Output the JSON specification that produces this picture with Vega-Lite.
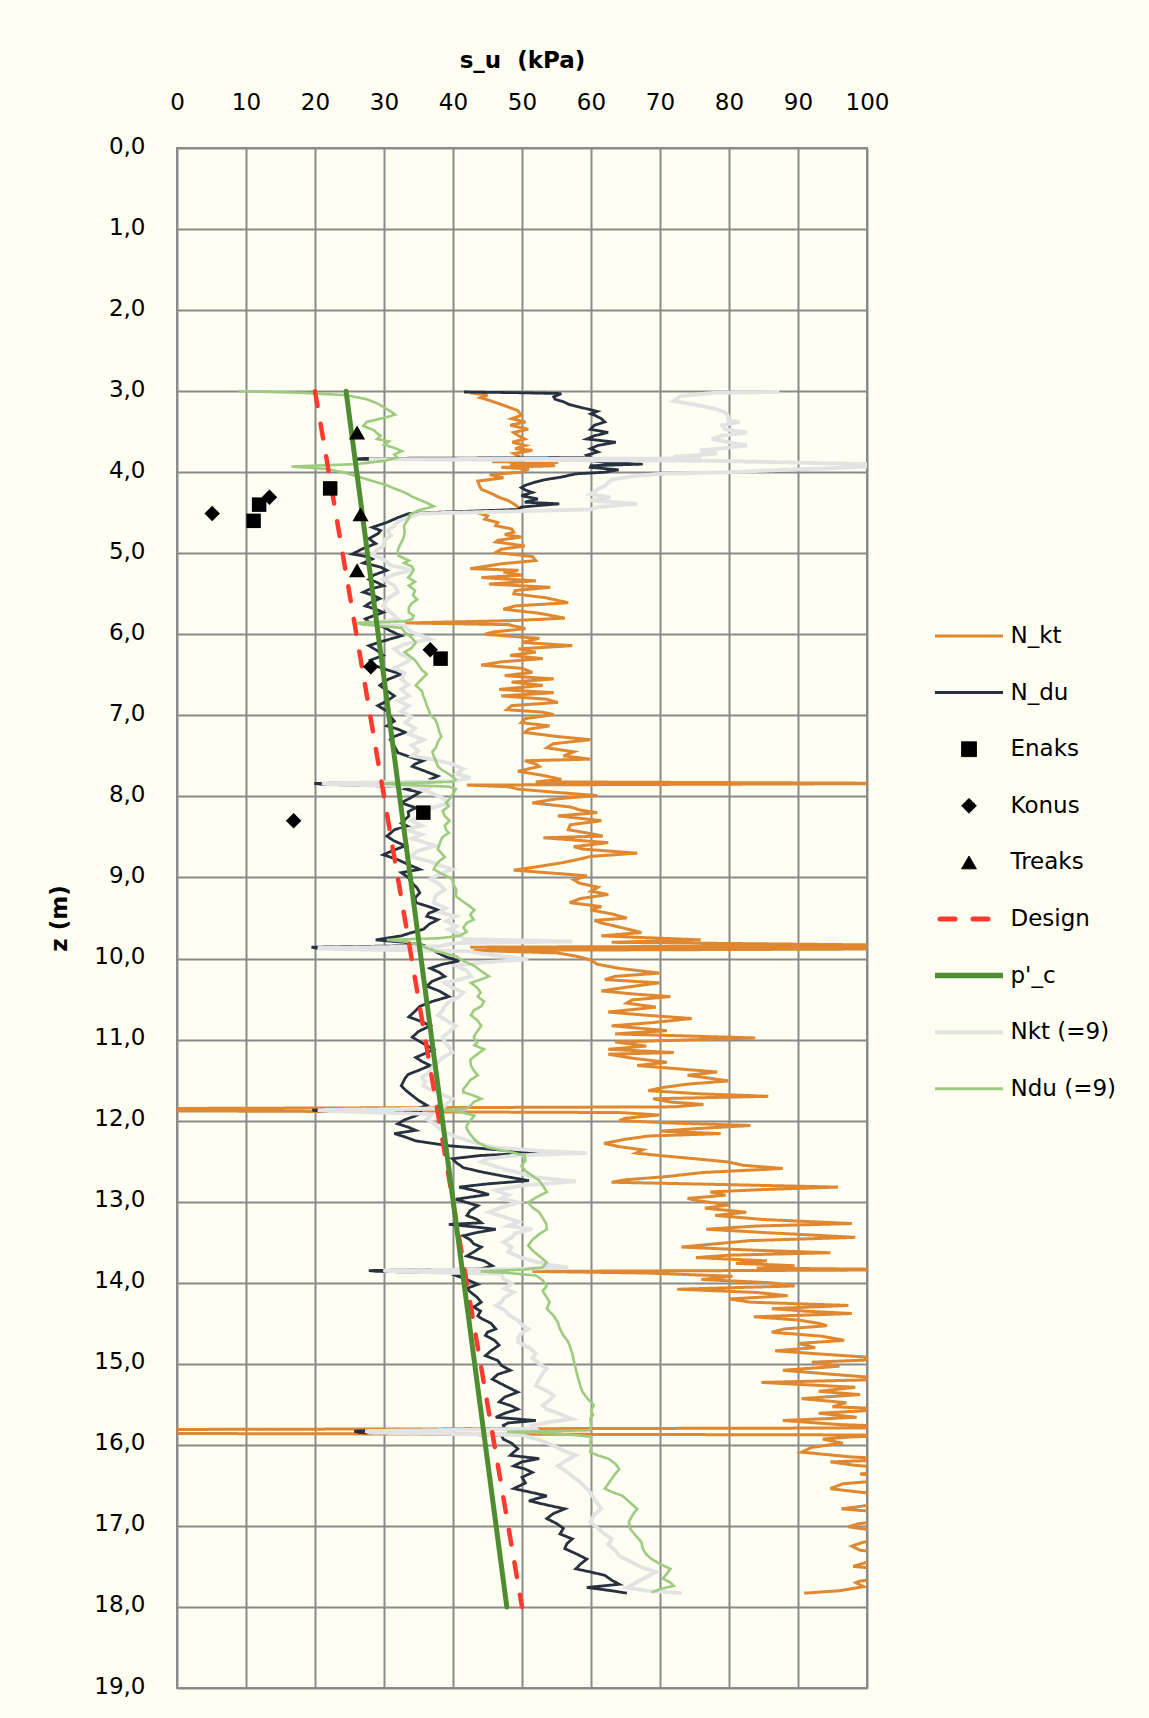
{
"$schema": "https://vega.github.io/schema/vega-lite/v6.json",
"autosize": {"type": "none"},
"padding": {"left": 177, "top": 148, "right": 282, "bottom": 30},
"width": 690,
"height": 1540,
"background": "#FEFEF2",
"config": {
  "view": {"stroke": "#8a8a8a", "strokeWidth": 2},
  "font": "DejaVu Sans"
},
"data": {"values": [
{"s":"N_kt","z":3.02,"v":42.5},{"s":"N_kt","z":3.05,"v":45.0},{"s":"N_kt","z":3.08,"v":44.0},{"s":"N_kt","z":3.12,"v":45.5},{"s":"N_kt","z":3.18,"v":47.5},{"s":"N_kt","z":3.24,"v":49.4},{"s":"N_kt","z":3.30,"v":49.9},{"s":"N_kt","z":3.34,"v":48.5},{"s":"N_kt","z":3.38,"v":50.5},{"s":"N_kt","z":3.42,"v":48.3},{"s":"N_kt","z":3.47,"v":50.9},{"s":"N_kt","z":3.51,"v":48.8},{"s":"N_kt","z":3.55,"v":49.5},{"s":"N_kt","z":3.59,"v":50.4},{"s":"N_kt","z":3.63,"v":48.6},{"s":"N_kt","z":3.67,"v":50.5},{"s":"N_kt","z":3.71,"v":49.0},{"s":"N_kt","z":3.73,"v":51.5},{"s":"N_kt","z":3.77,"v":48.8},{"s":"N_kt","z":3.80,"v":49.5},{"s":"N_kt","z":3.84,"v":49.0},{"s":"N_kt","z":3.87,"v":45.7},{"s":"N_kt","z":3.88,"v":55.2},{"s":"N_kt","z":3.90,"v":48.3},{"s":"N_kt","z":3.92,"v":54.8},{"s":"N_kt","z":3.94,"v":47.0},{"s":"N_kt","z":3.96,"v":51.0},{"s":"N_kt","z":4.00,"v":49.9},{"s":"N_kt","z":4.03,"v":45.3},{"s":"N_kt","z":4.07,"v":47.3},{"s":"N_kt","z":4.11,"v":43.6},{"s":"N_kt","z":4.16,"v":43.8},{"s":"N_kt","z":4.21,"v":44.1},{"s":"N_kt","z":4.26,"v":45.5},{"s":"N_kt","z":4.31,"v":46.7},{"s":"N_kt","z":4.35,"v":48.0},{"s":"N_kt","z":4.39,"v":48.8},{"s":"N_kt","z":4.43,"v":49.4},{"s":"N_kt","z":4.46,"v":49.6},{"s":"N_kt","z":4.50,"v":43.6},{"s":"N_kt","z":4.54,"v":45.0},{"s":"N_kt","z":4.58,"v":44.6},{"s":"N_kt","z":4.62,"v":46.5},{"s":"N_kt","z":4.66,"v":46.2},{"s":"N_kt","z":4.70,"v":48.5},{"s":"N_kt","z":4.74,"v":48.8},{"s":"N_kt","z":4.77,"v":47.5},{"s":"N_kt","z":4.80,"v":49.9},{"s":"N_kt","z":4.84,"v":46.5},{"s":"N_kt","z":4.86,"v":46.2},{"s":"N_kt","z":4.91,"v":50.4},{"s":"N_kt","z":4.95,"v":47.0},{"s":"N_kt","z":4.99,"v":46.2},{"s":"N_kt","z":5.04,"v":51.5},{"s":"N_kt","z":5.09,"v":52.0},{"s":"N_kt","z":5.13,"v":47.0},{"s":"N_kt","z":5.19,"v":42.5},{"s":"N_kt","z":5.21,"v":49.5},{"s":"N_kt","z":5.23,"v":47.3},{"s":"N_kt","z":5.27,"v":50.0},{"s":"N_kt","z":5.30,"v":44.1},{"s":"N_kt","z":5.34,"v":52.0},{"s":"N_kt","z":5.38,"v":45.2},{"s":"N_kt","z":5.42,"v":54.1},{"s":"N_kt","z":5.46,"v":49.0},{"s":"N_kt","z":5.50,"v":48.8},{"s":"N_kt","z":5.55,"v":53.5},{"s":"N_kt","z":5.61,"v":56.7},{"s":"N_kt","z":5.65,"v":49.0},{"s":"N_kt","z":5.69,"v":47.3},{"s":"N_kt","z":5.74,"v":52.5},{"s":"N_kt","z":5.80,"v":56.2},{"s":"N_kt","z":5.83,"v":49.0},{"s":"N_kt","z":5.86,"v":33.1},{"s":"N_kt","z":5.88,"v":48.0},{"s":"N_kt","z":5.93,"v":50.5},{"s":"N_kt","z":5.97,"v":46.0},{"s":"N_kt","z":6.00,"v":44.6},{"s":"N_kt","z":6.05,"v":52.5},{"s":"N_kt","z":6.10,"v":50.0},{"s":"N_kt","z":6.14,"v":57.3},{"s":"N_kt","z":6.18,"v":49.5},{"s":"N_kt","z":6.22,"v":52.0},{"s":"N_kt","z":6.26,"v":48.3},{"s":"N_kt","z":6.30,"v":53.0},{"s":"N_kt","z":6.34,"v":47.0},{"s":"N_kt","z":6.38,"v":44.1},{"s":"N_kt","z":6.42,"v":50.0},{"s":"N_kt","z":6.47,"v":51.5},{"s":"N_kt","z":6.51,"v":47.5},{"s":"N_kt","z":6.55,"v":54.6},{"s":"N_kt","z":6.59,"v":48.5},{"s":"N_kt","z":6.63,"v":53.0},{"s":"N_kt","z":6.68,"v":46.7},{"s":"N_kt","z":6.72,"v":54.6},{"s":"N_kt","z":6.76,"v":47.0},{"s":"N_kt","z":6.80,"v":53.5},{"s":"N_kt","z":6.84,"v":55.2},{"s":"N_kt","z":6.88,"v":48.5},{"s":"N_kt","z":6.93,"v":47.8},{"s":"N_kt","z":6.96,"v":53.0},{"s":"N_kt","z":6.99,"v":54.6},{"s":"N_kt","z":7.04,"v":50.5},{"s":"N_kt","z":7.09,"v":49.9},{"s":"N_kt","z":7.13,"v":54.0},{"s":"N_kt","z":7.17,"v":51.0},{"s":"N_kt","z":7.21,"v":50.4},{"s":"N_kt","z":7.26,"v":55.0},{"s":"N_kt","z":7.30,"v":59.9},{"s":"N_kt","z":7.35,"v":54.5},{"s":"N_kt","z":7.40,"v":53.6},{"s":"N_kt","z":7.45,"v":57.5},{"s":"N_kt","z":7.50,"v":56.0},{"s":"N_kt","z":7.54,"v":59.9},{"s":"N_kt","z":7.56,"v":50.4},{"s":"N_kt","z":7.60,"v":52.0},{"s":"N_kt","z":7.63,"v":52.5},{"s":"N_kt","z":7.69,"v":49.4},{"s":"N_kt","z":7.74,"v":53.0},{"s":"N_kt","z":7.79,"v":55.7},{"s":"N_kt","z":7.82,"v":52.0},{"s":"N_kt","z":7.84,"v":110},{"s":"N_kt","z":7.86,"v":42.0},{"s":"N_kt","z":7.88,"v":48.0},{"s":"N_kt","z":7.91,"v":49.4},{"s":"N_kt","z":7.95,"v":55.0},{"s":"N_kt","z":7.99,"v":60.9},{"s":"N_kt","z":8.03,"v":55.0},{"s":"N_kt","z":8.08,"v":51.5},{"s":"N_kt","z":8.13,"v":57.0},{"s":"N_kt","z":8.17,"v":58.5},{"s":"N_kt","z":8.20,"v":60.9},{"s":"N_kt","z":8.24,"v":55.2},{"s":"N_kt","z":8.30,"v":61.5},{"s":"N_kt","z":8.35,"v":57.0},{"s":"N_kt","z":8.41,"v":56.7},{"s":"N_kt","z":8.46,"v":60.0},{"s":"N_kt","z":8.49,"v":61.7},{"s":"N_kt","z":8.51,"v":53.1},{"s":"N_kt","z":8.57,"v":62.5},{"s":"N_kt","z":8.62,"v":57.5},{"s":"N_kt","z":8.65,"v":58.8},{"s":"N_kt","z":8.70,"v":66.7},{"s":"N_kt","z":8.74,"v":60.0},{"s":"N_kt","z":8.78,"v":58.0},{"s":"N_kt","z":8.82,"v":55.7},{"s":"N_kt","z":8.87,"v":52.0},{"s":"N_kt","z":8.91,"v":48.8},{"s":"N_kt","z":8.95,"v":55.0},{"s":"N_kt","z":8.98,"v":59.4},{"s":"N_kt","z":9.03,"v":57.5},{"s":"N_kt","z":9.07,"v":58.3},{"s":"N_kt","z":9.12,"v":61.0},{"s":"N_kt","z":9.17,"v":60.0},{"s":"N_kt","z":9.21,"v":62.5},{"s":"N_kt","z":9.26,"v":58.5},{"s":"N_kt","z":9.31,"v":56.9},{"s":"N_kt","z":9.36,"v":61.5},{"s":"N_kt","z":9.40,"v":59.9},{"s":"N_kt","z":9.45,"v":63.0},{"s":"N_kt","z":9.50,"v":65.2},{"s":"N_kt","z":9.53,"v":60.5},{"s":"N_kt","z":9.56,"v":61.5},{"s":"N_kt","z":9.62,"v":64.5},{"s":"N_kt","z":9.68,"v":67.3},{"s":"N_kt","z":9.72,"v":61.5},{"s":"N_kt","z":9.77,"v":75.9},{"s":"N_kt","z":9.80,"v":63.0},{"s":"N_kt","z":9.84,"v":110},{"s":"N_kt","z":9.86,"v":42.5},{"s":"N_kt","z":9.88,"v":110},{"s":"N_kt","z":9.90,"v":43.0},{"s":"N_kt","z":9.93,"v":55.0},{"s":"N_kt","z":9.97,"v":57.8},{"s":"N_kt","z":10.02,"v":60.0},{"s":"N_kt","z":10.07,"v":60.9},{"s":"N_kt","z":10.12,"v":64.0},{"s":"N_kt","z":10.18,"v":69.9},{"s":"N_kt","z":10.22,"v":63.5},{"s":"N_kt","z":10.26,"v":62.0},{"s":"N_kt","z":10.30,"v":69.9},{"s":"N_kt","z":10.35,"v":65.5},{"s":"N_kt","z":10.40,"v":61.5},{"s":"N_kt","z":10.44,"v":66.5},{"s":"N_kt","z":10.47,"v":71.5},{"s":"N_kt","z":10.51,"v":66.0},{"s":"N_kt","z":10.55,"v":65.2},{"s":"N_kt","z":10.60,"v":69.4},{"s":"N_kt","z":10.63,"v":66.0},{"s":"N_kt","z":10.66,"v":62.5},{"s":"N_kt","z":10.70,"v":68.0},{"s":"N_kt","z":10.74,"v":74.6},{"s":"N_kt","z":10.79,"v":69.0},{"s":"N_kt","z":10.83,"v":63.0},{"s":"N_kt","z":10.86,"v":67.0},{"s":"N_kt","z":10.89,"v":71.0},{"s":"N_kt","z":10.93,"v":63.5},{"s":"N_kt","z":10.98,"v":83.8},{"s":"N_kt","z":11.03,"v":63.5},{"s":"N_kt","z":11.08,"v":68.0},{"s":"N_kt","z":11.12,"v":62.5},{"s":"N_kt","z":11.16,"v":72.0},{"s":"N_kt","z":11.18,"v":62.5},{"s":"N_kt","z":11.23,"v":66.0},{"s":"N_kt","z":11.28,"v":71.0},{"s":"N_kt","z":11.32,"v":66.7},{"s":"N_kt","z":11.36,"v":72.5},{"s":"N_kt","z":11.40,"v":78.3},{"s":"N_kt","z":11.44,"v":74.0},{"s":"N_kt","z":11.48,"v":77.5},{"s":"N_kt","z":11.51,"v":79.9},{"s":"N_kt","z":11.55,"v":74.0},{"s":"N_kt","z":11.59,"v":70.5},{"s":"N_kt","z":11.63,"v":68.3},{"s":"N_kt","z":11.67,"v":76.0},{"s":"N_kt","z":11.70,"v":85.7},{"s":"N_kt","z":11.73,"v":69.0},{"s":"N_kt","z":11.77,"v":71.5},{"s":"N_kt","z":11.80,"v":76.3},{"s":"N_kt","z":11.83,"v":72.0},{"s":"N_kt","z":11.85,"v":0},{"s":"N_kt","z":11.88,"v":0},{"s":"N_kt","z":11.90,"v":64.1},{"s":"N_kt","z":11.93,"v":69.9},{"s":"N_kt","z":11.97,"v":65.0},{"s":"N_kt","z":12.00,"v":64.1},{"s":"N_kt","z":12.03,"v":72.0},{"s":"N_kt","z":12.06,"v":83.1},{"s":"N_kt","z":12.10,"v":75.0},{"s":"N_kt","z":12.13,"v":70.0},{"s":"N_kt","z":12.16,"v":78.8},{"s":"N_kt","z":12.19,"v":68.3},{"s":"N_kt","z":12.23,"v":65.0},{"s":"N_kt","z":12.28,"v":61.9},{"s":"N_kt","z":12.32,"v":64.0},{"s":"N_kt","z":12.36,"v":67.5},{"s":"N_kt","z":12.40,"v":66.5},{"s":"N_kt","z":12.43,"v":69.9},{"s":"N_kt","z":12.47,"v":75.0},{"s":"N_kt","z":12.51,"v":79.9},{"s":"N_kt","z":12.55,"v":82.0},{"s":"N_kt","z":12.59,"v":87.8},{"s":"N_kt","z":12.64,"v":76.2},{"s":"N_kt","z":12.69,"v":71.0},{"s":"N_kt","z":12.73,"v":65.0},{"s":"N_kt","z":12.76,"v":63.0},{"s":"N_kt","z":12.79,"v":80.0},{"s":"N_kt","z":12.82,"v":95.8},{"s":"N_kt","z":12.85,"v":85.0},{"s":"N_kt","z":12.88,"v":77.3},{"s":"N_kt","z":12.92,"v":79.5},{"s":"N_kt","z":12.96,"v":74.0},{"s":"N_kt","z":12.99,"v":75.7},{"s":"N_kt","z":13.04,"v":80.0},{"s":"N_kt","z":13.08,"v":76.5},{"s":"N_kt","z":13.13,"v":82.5},{"s":"N_kt","z":13.17,"v":78.0},{"s":"N_kt","z":13.22,"v":85.0},{"s":"N_kt","z":13.27,"v":97.8},{"s":"N_kt","z":13.30,"v":84.0},{"s":"N_kt","z":13.34,"v":76.7},{"s":"N_kt","z":13.38,"v":85.0},{"s":"N_kt","z":13.44,"v":98.3},{"s":"N_kt","z":13.48,"v":83.1},{"s":"N_kt","z":13.52,"v":78.0},{"s":"N_kt","z":13.56,"v":73.1},{"s":"N_kt","z":13.60,"v":84.0},{"s":"N_kt","z":13.63,"v":94.7},{"s":"N_kt","z":13.66,"v":80.0},{"s":"N_kt","z":13.69,"v":75.2},{"s":"N_kt","z":13.73,"v":85.5},{"s":"N_kt","z":13.76,"v":81.0},{"s":"N_kt","z":13.79,"v":89.5},{"s":"N_kt","z":13.82,"v":84.0},{"s":"N_kt","z":13.84,"v":110},{"s":"N_kt","z":13.86,"v":51.5},{"s":"N_kt","z":13.88,"v":68.0},{"s":"N_kt","z":13.92,"v":80.5},{"s":"N_kt","z":13.96,"v":76.0},{"s":"N_kt","z":14.00,"v":86.0},{"s":"N_kt","z":14.04,"v":89.5},{"s":"N_kt","z":14.08,"v":72.5},{"s":"N_kt","z":14.12,"v":84.0},{"s":"N_kt","z":14.16,"v":88.5},{"s":"N_kt","z":14.20,"v":80.0},{"s":"N_kt","z":14.24,"v":83.1},{"s":"N_kt","z":14.28,"v":97.3},{"s":"N_kt","z":14.32,"v":86.2},{"s":"N_kt","z":14.35,"v":91.0},{"s":"N_kt","z":14.38,"v":97.8},{"s":"N_kt","z":14.42,"v":83.6},{"s":"N_kt","z":14.46,"v":90.0},{"s":"N_kt","z":14.50,"v":93.0},{"s":"N_kt","z":14.53,"v":94.2},{"s":"N_kt","z":14.57,"v":88.0},{"s":"N_kt","z":14.61,"v":86.2},{"s":"N_kt","z":14.66,"v":93.5},{"s":"N_kt","z":14.71,"v":96.7},{"s":"N_kt","z":14.75,"v":90.0},{"s":"N_kt","z":14.80,"v":92.5},{"s":"N_kt","z":14.84,"v":86.7},{"s":"N_kt","z":14.89,"v":95.0},{"s":"N_kt","z":14.94,"v":104},{"s":"N_kt","z":14.98,"v":92.0},{"s":"N_kt","z":15.03,"v":96.0},{"s":"N_kt","z":15.08,"v":87.8},{"s":"N_kt","z":15.13,"v":95.0},{"s":"N_kt","z":15.19,"v":104},{"s":"N_kt","z":15.23,"v":84.7},{"s":"N_kt","z":15.29,"v":98.3},{"s":"N_kt","z":15.34,"v":93.0},{"s":"N_kt","z":15.38,"v":99.0},{"s":"N_kt","z":15.43,"v":90.5},{"s":"N_kt","z":15.48,"v":97.0},{"s":"N_kt","z":15.53,"v":95.0},{"s":"N_kt","z":15.56,"v":104},{"s":"N_kt","z":15.61,"v":93.0},{"s":"N_kt","z":15.66,"v":98.5},{"s":"N_kt","z":15.70,"v":87.8},{"s":"N_kt","z":15.75,"v":96.0},{"s":"N_kt","z":15.79,"v":110},{"s":"N_kt","z":15.81,"v":0},{"s":"N_kt","z":15.86,"v":0},{"s":"N_kt","z":15.88,"v":110},{"s":"N_kt","z":15.90,"v":98.0},{"s":"N_kt","z":15.93,"v":93.6},{"s":"N_kt","z":15.98,"v":96.5},{"s":"N_kt","z":16.03,"v":92.0},{"s":"N_kt","z":16.09,"v":90.5},{"s":"N_kt","z":16.15,"v":97.8},{"s":"N_kt","z":16.18,"v":105},{"s":"N_kt","z":16.21,"v":94.7},{"s":"N_kt","z":16.25,"v":98.0},{"s":"N_kt","z":16.30,"v":105},{"s":"N_kt","z":16.36,"v":99.0},{"s":"N_kt","z":16.42,"v":105},{"s":"N_kt","z":16.48,"v":96.5},{"s":"N_kt","z":16.54,"v":94.7},{"s":"N_kt","z":16.58,"v":98.5},{"s":"N_kt","z":16.63,"v":105},{"s":"N_kt","z":16.70,"v":105},{"s":"N_kt","z":16.75,"v":99.9},{"s":"N_kt","z":16.79,"v":96.3},{"s":"N_kt","z":16.85,"v":105},{"s":"N_kt","z":16.92,"v":105},{"s":"N_kt","z":16.97,"v":99.0},{"s":"N_kt","z":17.01,"v":97.3},{"s":"N_kt","z":17.05,"v":100.5},{"s":"N_kt","z":17.10,"v":105},{"s":"N_kt","z":17.15,"v":105},{"s":"N_kt","z":17.20,"v":99.5},{"s":"N_kt","z":17.25,"v":97.8},{"s":"N_kt","z":17.30,"v":99.0},{"s":"N_kt","z":17.36,"v":105},{"s":"N_kt","z":17.41,"v":105},{"s":"N_kt","z":17.45,"v":99.9},{"s":"N_kt","z":17.50,"v":98.0},{"s":"N_kt","z":17.55,"v":105},{"s":"N_kt","z":17.62,"v":105},{"s":"N_kt","z":17.68,"v":99.0},{"s":"N_kt","z":17.70,"v":98.4},{"s":"N_kt","z":17.75,"v":99.5},{"s":"N_kt","z":17.80,"v":96.0},{"s":"N_kt","z":17.83,"v":90.9},

{"s":"N_du","z":3.01,"v":41.6},{"s":"N_du","z":3.02,"v":50.0},{"s":"N_du","z":3.03,"v":55.7},{"s":"N_du","z":3.07,"v":54.6},{"s":"N_du","z":3.10,"v":54.8},{"s":"N_du","z":3.13,"v":56.0},{"s":"N_du","z":3.16,"v":56.7},{"s":"N_du","z":3.20,"v":58.5},{"s":"N_du","z":3.25,"v":60.9},{"s":"N_du","z":3.28,"v":60.0},{"s":"N_du","z":3.30,"v":60.6},{"s":"N_du","z":3.34,"v":61.5},{"s":"N_du","z":3.38,"v":62.0},{"s":"N_du","z":3.42,"v":60.5},{"s":"N_du","z":3.47,"v":59.9},{"s":"N_du","z":3.51,"v":62.5},{"s":"N_du","z":3.55,"v":60.5},{"s":"N_du","z":3.59,"v":59.4},{"s":"N_du","z":3.63,"v":63.6},{"s":"N_du","z":3.67,"v":61.0},{"s":"N_du","z":3.71,"v":59.9},{"s":"N_du","z":3.75,"v":61.0},{"s":"N_du","z":3.79,"v":59.4},{"s":"N_du","z":3.82,"v":60.0},{"s":"N_du","z":3.83,"v":27.0},{"s":"N_du","z":3.84,"v":25.5},{"s":"N_du","z":3.85,"v":59.5},{"s":"N_du","z":3.88,"v":62.0},{"s":"N_du","z":3.90,"v":67.5},{"s":"N_du","z":3.92,"v":60.0},{"s":"N_du","z":3.94,"v":59.9},{"s":"N_du","z":3.97,"v":64.0},{"s":"N_du","z":4.00,"v":62.0},{"s":"N_du","z":4.02,"v":57.8},{"s":"N_du","z":4.06,"v":55.7},{"s":"N_du","z":4.09,"v":53.5},{"s":"N_du","z":4.12,"v":52.0},{"s":"N_du","z":4.16,"v":50.5},{"s":"N_du","z":4.19,"v":49.9},{"s":"N_du","z":4.22,"v":50.5},{"s":"N_du","z":4.25,"v":51.5},{"s":"N_du","z":4.29,"v":49.9},{"s":"N_du","z":4.33,"v":52.3},{"s":"N_du","z":4.37,"v":50.4},{"s":"N_du","z":4.39,"v":55.4},{"s":"N_du","z":4.43,"v":49.9},{"s":"N_du","z":4.46,"v":49.4},{"s":"N_du","z":4.50,"v":36.0},{"s":"N_du","z":4.51,"v":33.6},{"s":"N_du","z":4.56,"v":32.0},{"s":"N_du","z":4.62,"v":30.4},{"s":"N_du","z":4.68,"v":28.3},{"s":"N_du","z":4.72,"v":29.5},{"s":"N_du","z":4.76,"v":29.1},{"s":"N_du","z":4.82,"v":27.8},{"s":"N_du","z":4.88,"v":28.8},{"s":"N_du","z":4.94,"v":27.0},{"s":"N_du","z":5.01,"v":25.4},{"s":"N_du","z":5.04,"v":27.5},{"s":"N_du","z":5.07,"v":28.3},{"s":"N_du","z":5.12,"v":27.0},{"s":"N_du","z":5.17,"v":29.5},{"s":"N_du","z":5.21,"v":30.4},{"s":"N_du","z":5.27,"v":28.5},{"s":"N_du","z":5.32,"v":27.8},{"s":"N_du","z":5.36,"v":29.0},{"s":"N_du","z":5.40,"v":29.9},{"s":"N_du","z":5.44,"v":28.0},{"s":"N_du","z":5.48,"v":27.0},{"s":"N_du","z":5.52,"v":28.5},{"s":"N_du","z":5.56,"v":29.4},{"s":"N_du","z":5.61,"v":28.0},{"s":"N_du","z":5.65,"v":27.3},{"s":"N_du","z":5.69,"v":28.8},{"s":"N_du","z":5.73,"v":29.9},{"s":"N_du","z":5.77,"v":28.5},{"s":"N_du","z":5.81,"v":27.3},{"s":"N_du","z":5.86,"v":28.0},{"s":"N_du","z":5.91,"v":29.9},{"s":"N_du","z":5.96,"v":31.0},{"s":"N_du","z":6.02,"v":32.5},{"s":"N_du","z":6.08,"v":30.0},{"s":"N_du","z":6.14,"v":27.8},{"s":"N_du","z":6.20,"v":29.0},{"s":"N_du","z":6.26,"v":29.9},{"s":"N_du","z":6.32,"v":28.0},{"s":"N_du","z":6.39,"v":28.8},{"s":"N_du","z":6.44,"v":30.5},{"s":"N_du","z":6.49,"v":32.5},{"s":"N_du","z":6.56,"v":30.5},{"s":"N_du","z":6.63,"v":29.4},{"s":"N_du","z":6.70,"v":30.5},{"s":"N_du","z":6.76,"v":31.5},{"s":"N_du","z":6.82,"v":30.5},{"s":"N_du","z":6.88,"v":29.1},{"s":"N_du","z":6.95,"v":30.5},{"s":"N_du","z":7.01,"v":30.9},{"s":"N_du","z":7.07,"v":31.5},{"s":"N_du","z":7.13,"v":30.4},{"s":"N_du","z":7.17,"v":32.0},{"s":"N_du","z":7.21,"v":33.1},{"s":"N_du","z":7.26,"v":31.5},{"s":"N_du","z":7.30,"v":30.9},{"s":"N_du","z":7.38,"v":31.5},{"s":"N_du","z":7.46,"v":32.0},{"s":"N_du","z":7.52,"v":34.0},{"s":"N_du","z":7.56,"v":35.7},{"s":"N_du","z":7.60,"v":34.5},{"s":"N_du","z":7.63,"v":34.1},{"s":"N_du","z":7.69,"v":36.0},{"s":"N_du","z":7.75,"v":37.8},{"s":"N_du","z":7.79,"v":36.7},{"s":"N_du","z":7.82,"v":37.0},{"s":"N_du","z":7.84,"v":19.9},{"s":"N_du","z":7.85,"v":21.0},{"s":"N_du","z":7.88,"v":34.0},{"s":"N_du","z":7.91,"v":33.1},{"s":"N_du","z":7.95,"v":35.2},{"s":"N_du","z":8.01,"v":34.0},{"s":"N_du","z":8.08,"v":32.5},{"s":"N_du","z":8.14,"v":34.6},{"s":"N_du","z":8.19,"v":33.5},{"s":"N_du","z":8.24,"v":33.6},{"s":"N_du","z":8.29,"v":33.0},{"s":"N_du","z":8.33,"v":32.5},{"s":"N_du","z":8.37,"v":33.5},{"s":"N_du","z":8.41,"v":31.5},{"s":"N_du","z":8.45,"v":31.0},{"s":"N_du","z":8.49,"v":30.4},{"s":"N_du","z":8.55,"v":31.5},{"s":"N_du","z":8.61,"v":33.1},{"s":"N_du","z":8.66,"v":31.5},{"s":"N_du","z":8.72,"v":29.9},{"s":"N_du","z":8.78,"v":32.0},{"s":"N_du","z":8.84,"v":33.5},{"s":"N_du","z":8.90,"v":35.2},{"s":"N_du","z":8.94,"v":32.5},{"s":"N_du","z":9.00,"v":33.5},{"s":"N_du","z":9.07,"v":34.1},{"s":"N_du","z":9.13,"v":34.8},{"s":"N_du","z":9.19,"v":35.2},{"s":"N_du","z":9.25,"v":34.5},{"s":"N_du","z":9.31,"v":34.6},{"s":"N_du","z":9.36,"v":36.5},{"s":"N_du","z":9.40,"v":37.8},{"s":"N_du","z":9.44,"v":36.5},{"s":"N_du","z":9.48,"v":36.2},{"s":"N_du","z":9.52,"v":37.8},{"s":"N_du","z":9.58,"v":36.5},{"s":"N_du","z":9.64,"v":35.7},{"s":"N_du","z":9.68,"v":34.0},{"s":"N_du","z":9.72,"v":32.5},{"s":"N_du","z":9.77,"v":28.8},{"s":"N_du","z":9.80,"v":33.0},{"s":"N_du","z":9.84,"v":36.0},{"s":"N_du","z":9.86,"v":19.5},{"s":"N_du","z":9.87,"v":20.0},{"s":"N_du","z":9.89,"v":37.0},{"s":"N_du","z":9.93,"v":37.8},{"s":"N_du","z":9.98,"v":39.0},{"s":"N_du","z":10.03,"v":40.9},{"s":"N_du","z":10.07,"v":38.5},{"s":"N_du","z":10.12,"v":36.7},{"s":"N_du","z":10.17,"v":38.0},{"s":"N_du","z":10.22,"v":38.8},{"s":"N_du","z":10.28,"v":37.0},{"s":"N_du","z":10.34,"v":36.2},{"s":"N_du","z":10.40,"v":38.0},{"s":"N_du","z":10.47,"v":39.4},{"s":"N_du","z":10.53,"v":37.0},{"s":"N_du","z":10.59,"v":35.2},{"s":"N_du","z":10.65,"v":34.5},{"s":"N_du","z":10.72,"v":33.6},{"s":"N_du","z":10.78,"v":35.5},{"s":"N_du","z":10.83,"v":36.7},{"s":"N_du","z":10.90,"v":35.0},{"s":"N_du","z":10.97,"v":34.1},{"s":"N_du","z":11.04,"v":35.5},{"s":"N_du","z":11.12,"v":37.2},{"s":"N_du","z":11.17,"v":36.0},{"s":"N_du","z":11.22,"v":34.6},{"s":"N_du","z":11.27,"v":35.5},{"s":"N_du","z":11.32,"v":36.7},{"s":"N_du","z":11.38,"v":35.0},{"s":"N_du","z":11.43,"v":33.5},{"s":"N_du","z":11.47,"v":33.1},{"s":"N_du","z":11.52,"v":32.8},{"s":"N_du","z":11.57,"v":32.5},{"s":"N_du","z":11.63,"v":33.2},{"s":"N_du","z":11.69,"v":34.1},{"s":"N_du","z":11.75,"v":35.0},{"s":"N_du","z":11.81,"v":36.2},{"s":"N_du","z":11.85,"v":35.0},{"s":"N_du","z":11.87,"v":19.6},{"s":"N_du","z":11.88,"v":20.5},{"s":"N_du","z":11.90,"v":35.5},{"s":"N_du","z":11.94,"v":34.6},{"s":"N_du","z":11.99,"v":33.0},{"s":"N_du","z":12.04,"v":32.0},{"s":"N_du","z":12.08,"v":33.5},{"s":"N_du","z":12.12,"v":34.6},{"s":"N_du","z":12.16,"v":31.5},{"s":"N_du","z":12.20,"v":33.0},{"s":"N_du","z":12.25,"v":34.6},{"s":"N_du","z":12.28,"v":37.0},{"s":"N_du","z":12.31,"v":39.4},{"s":"N_du","z":12.35,"v":45.0},{"s":"N_du","z":12.40,"v":52.5},{"s":"N_du","z":12.43,"v":44.0},{"s":"N_du","z":12.47,"v":39.9},{"s":"N_du","z":12.52,"v":40.5},{"s":"N_du","z":12.58,"v":41.5},{"s":"N_du","z":12.63,"v":44.0},{"s":"N_du","z":12.68,"v":47.0},{"s":"N_du","z":12.74,"v":51.0},{"s":"N_du","z":12.78,"v":45.0},{"s":"N_du","z":12.82,"v":40.9},{"s":"N_du","z":12.86,"v":43.0},{"s":"N_du","z":12.91,"v":45.2},{"s":"N_du","z":12.97,"v":40.4},{"s":"N_du","z":13.01,"v":42.0},{"s":"N_du","z":13.05,"v":43.6},{"s":"N_du","z":13.11,"v":42.5},{"s":"N_du","z":13.17,"v":42.0},{"s":"N_du","z":13.22,"v":43.5},{"s":"N_du","z":13.26,"v":44.1},{"s":"N_du","z":13.28,"v":39.4},{"s":"N_du","z":13.31,"v":43.0},{"s":"N_du","z":13.34,"v":46.2},{"s":"N_du","z":13.38,"v":43.5},{"s":"N_du","z":13.42,"v":41.5},{"s":"N_du","z":13.47,"v":42.5},{"s":"N_du","z":13.52,"v":43.0},{"s":"N_du","z":13.56,"v":44.1},{"s":"N_du","z":13.62,"v":43.0},{"s":"N_du","z":13.67,"v":42.0},{"s":"N_du","z":13.73,"v":44.5},{"s":"N_du","z":13.79,"v":45.7},{"s":"N_du","z":13.83,"v":44.0},{"s":"N_du","z":13.85,"v":27.8},{"s":"N_du","z":13.86,"v":29.0},{"s":"N_du","z":13.88,"v":42.0},{"s":"N_du","z":13.91,"v":40.4},{"s":"N_du","z":13.96,"v":42.0},{"s":"N_du","z":14.02,"v":43.6},{"s":"N_du","z":14.07,"v":42.0},{"s":"N_du","z":14.12,"v":42.6},{"s":"N_du","z":14.18,"v":43.5},{"s":"N_du","z":14.24,"v":44.1},{"s":"N_du","z":14.30,"v":43.0},{"s":"N_du","z":14.35,"v":44.0},{"s":"N_du","z":14.41,"v":43.6},{"s":"N_du","z":14.44,"v":44.1},{"s":"N_du","z":14.50,"v":45.5},{"s":"N_du","z":14.57,"v":46.2},{"s":"N_du","z":14.61,"v":45.0},{"s":"N_du","z":14.65,"v":44.7},{"s":"N_du","z":14.71,"v":46.0},{"s":"N_du","z":14.77,"v":46.7},{"s":"N_du","z":14.84,"v":45.5},{"s":"N_du","z":14.90,"v":44.7},{"s":"N_du","z":14.96,"v":46.5},{"s":"N_du","z":15.02,"v":47.0},{"s":"N_du","z":15.08,"v":48.3},{"s":"N_du","z":15.13,"v":46.5},{"s":"N_du","z":15.19,"v":45.7},{"s":"N_du","z":15.27,"v":47.5},{"s":"N_du","z":15.35,"v":49.4},{"s":"N_du","z":15.41,"v":47.5},{"s":"N_du","z":15.47,"v":46.7},{"s":"N_du","z":15.52,"v":48.5},{"s":"N_du","z":15.56,"v":49.4},{"s":"N_du","z":15.61,"v":47.5},{"s":"N_du","z":15.66,"v":46.2},{"s":"N_du","z":15.70,"v":52.0},{"s":"N_du","z":15.73,"v":48.0},{"s":"N_du","z":15.76,"v":47.3},{"s":"N_du","z":15.80,"v":47.5},{"s":"N_du","z":15.83,"v":25.7},{"s":"N_du","z":15.85,"v":26.5},{"s":"N_du","z":15.88,"v":47.0},{"s":"N_du","z":15.93,"v":47.3},{"s":"N_du","z":15.98,"v":48.5},{"s":"N_du","z":16.05,"v":49.4},{"s":"N_du","z":16.09,"v":48.8},{"s":"N_du","z":16.13,"v":48.3},{"s":"N_du","z":16.17,"v":52.5},{"s":"N_du","z":16.21,"v":50.0},{"s":"N_du","z":16.26,"v":48.8},{"s":"N_du","z":16.30,"v":50.5},{"s":"N_du","z":16.34,"v":51.5},{"s":"N_du","z":16.40,"v":50.0},{"s":"N_du","z":16.47,"v":50.5},{"s":"N_du","z":16.54,"v":48.8},{"s":"N_du","z":16.58,"v":51.0},{"s":"N_du","z":16.63,"v":53.6},{"s":"N_du","z":16.69,"v":51.0},{"s":"N_du","z":16.74,"v":53.5},{"s":"N_du","z":16.79,"v":56.2},{"s":"N_du","z":16.85,"v":54.5},{"s":"N_du","z":16.91,"v":53.6},{"s":"N_du","z":16.97,"v":55.0},{"s":"N_du","z":17.03,"v":56.0},{"s":"N_du","z":17.10,"v":55.5},{"s":"N_du","z":17.16,"v":57.3},{"s":"N_du","z":17.22,"v":56.5},{"s":"N_du","z":17.28,"v":56.2},{"s":"N_du","z":17.35,"v":58.0},{"s":"N_du","z":17.41,"v":59.4},{"s":"N_du","z":17.47,"v":58.5},{"s":"N_du","z":17.53,"v":57.8},{"s":"N_du","z":17.57,"v":60.0},{"s":"N_du","z":17.61,"v":62.0},{"s":"N_du","z":17.67,"v":63.0},{"s":"N_du","z":17.72,"v":64.1},{"s":"N_du","z":17.76,"v":59.4},{"s":"N_du","z":17.80,"v":63.0},{"s":"N_du","z":17.83,"v":65.2},

{"s":"Nkt (=9)","z":3.01,"v":87.3},{"s":"Nkt (=9)","z":3.02,"v":77.8},{"s":"Nkt (=9)","z":3.06,"v":73.0},{"s":"Nkt (=9)","z":3.12,"v":72.0},{"s":"Nkt (=9)","z":3.15,"v":74.0},{"s":"Nkt (=9)","z":3.18,"v":75.8},{"s":"Nkt (=9)","z":3.22,"v":78.0},{"s":"Nkt (=9)","z":3.26,"v":79.4},{"s":"Nkt (=9)","z":3.31,"v":79.9},{"s":"Nkt (=9)","z":3.36,"v":79.9},{"s":"Nkt (=9)","z":3.38,"v":81.5},{"s":"Nkt (=9)","z":3.42,"v":79.0},{"s":"Nkt (=9)","z":3.47,"v":79.4},{"s":"Nkt (=9)","z":3.51,"v":82.6},{"s":"Nkt (=9)","z":3.55,"v":79.0},{"s":"Nkt (=9)","z":3.59,"v":77.5},{"s":"Nkt (=9)","z":3.63,"v":80.0},{"s":"Nkt (=9)","z":3.67,"v":82.6},{"s":"Nkt (=9)","z":3.71,"v":78.5},{"s":"Nkt (=9)","z":3.73,"v":75.8},{"s":"Nkt (=9)","z":3.77,"v":78.3},{"s":"Nkt (=9)","z":3.81,"v":72.0},{"s":"Nkt (=9)","z":3.83,"v":76.0},{"s":"Nkt (=9)","z":3.84,"v":27.8},{"s":"Nkt (=9)","z":3.86,"v":78.0},{"s":"Nkt (=9)","z":3.90,"v":99.9},{"s":"Nkt (=9)","z":3.93,"v":99.9},{"s":"Nkt (=9)","z":3.95,"v":95.0},{"s":"Nkt (=9)","z":3.97,"v":88.0},{"s":"Nkt (=9)","z":4.00,"v":80.0},{"s":"Nkt (=9)","z":4.02,"v":70.0},{"s":"Nkt (=9)","z":4.05,"v":66.0},{"s":"Nkt (=9)","z":4.09,"v":63.0},{"s":"Nkt (=9)","z":4.13,"v":62.5},{"s":"Nkt (=9)","z":4.17,"v":62.0},{"s":"Nkt (=9)","z":4.21,"v":61.0},{"s":"Nkt (=9)","z":4.27,"v":59.9},{"s":"Nkt (=9)","z":4.31,"v":62.8},{"s":"Nkt (=9)","z":4.35,"v":59.9},{"s":"Nkt (=9)","z":4.39,"v":66.7},{"s":"Nkt (=9)","z":4.43,"v":61.0},{"s":"Nkt (=9)","z":4.46,"v":59.9},{"s":"Nkt (=9)","z":4.49,"v":45.0},{"s":"Nkt (=9)","z":4.51,"v":35.2},{"s":"Nkt (=9)","z":4.56,"v":33.5},{"s":"Nkt (=9)","z":4.61,"v":32.0},{"s":"Nkt (=9)","z":4.66,"v":31.5},{"s":"Nkt (=9)","z":4.72,"v":30.5},{"s":"Nkt (=9)","z":4.78,"v":31.0},{"s":"Nkt (=9)","z":4.84,"v":30.0},{"s":"Nkt (=9)","z":4.91,"v":29.9},{"s":"Nkt (=9)","z":4.96,"v":29.0},{"s":"Nkt (=9)","z":5.01,"v":28.3},{"s":"Nkt (=9)","z":5.08,"v":30.0},{"s":"Nkt (=9)","z":5.15,"v":31.0},{"s":"Nkt (=9)","z":5.21,"v":34.1},{"s":"Nkt (=9)","z":5.26,"v":31.5},{"s":"Nkt (=9)","z":5.32,"v":29.9},{"s":"Nkt (=9)","z":5.40,"v":31.5},{"s":"Nkt (=9)","z":5.48,"v":32.0},{"s":"Nkt (=9)","z":5.56,"v":30.5},{"s":"Nkt (=9)","z":5.65,"v":29.9},{"s":"Nkt (=9)","z":5.73,"v":31.0},{"s":"Nkt (=9)","z":5.81,"v":32.0},{"s":"Nkt (=9)","z":5.84,"v":30.0},{"s":"Nkt (=9)","z":5.86,"v":27.0},{"s":"Nkt (=9)","z":5.90,"v":33.0},{"s":"Nkt (=9)","z":5.97,"v":34.0},{"s":"Nkt (=9)","z":6.06,"v":36.7},{"s":"Nkt (=9)","z":6.12,"v":33.0},{"s":"Nkt (=9)","z":6.18,"v":31.5},{"s":"Nkt (=9)","z":6.25,"v":32.5},{"s":"Nkt (=9)","z":6.30,"v":34.0},{"s":"Nkt (=9)","z":6.35,"v":33.1},{"s":"Nkt (=9)","z":6.42,"v":31.5},{"s":"Nkt (=9)","z":6.48,"v":33.0},{"s":"Nkt (=9)","z":6.55,"v":32.5},{"s":"Nkt (=9)","z":6.62,"v":33.5},{"s":"Nkt (=9)","z":6.68,"v":32.5},{"s":"Nkt (=9)","z":6.76,"v":33.6},{"s":"Nkt (=9)","z":6.82,"v":32.0},{"s":"Nkt (=9)","z":6.88,"v":33.6},{"s":"Nkt (=9)","z":6.95,"v":32.5},{"s":"Nkt (=9)","z":7.02,"v":34.0},{"s":"Nkt (=9)","z":7.09,"v":33.1},{"s":"Nkt (=9)","z":7.16,"v":34.5},{"s":"Nkt (=9)","z":7.23,"v":33.5},{"s":"Nkt (=9)","z":7.30,"v":35.7},{"s":"Nkt (=9)","z":7.37,"v":34.0},{"s":"Nkt (=9)","z":7.44,"v":35.0},{"s":"Nkt (=9)","z":7.50,"v":34.1},{"s":"Nkt (=9)","z":7.56,"v":38.0},{"s":"Nkt (=9)","z":7.60,"v":39.9},{"s":"Nkt (=9)","z":7.66,"v":41.5},{"s":"Nkt (=9)","z":7.72,"v":40.5},{"s":"Nkt (=9)","z":7.77,"v":42.5},{"s":"Nkt (=9)","z":7.81,"v":40.0},{"s":"Nkt (=9)","z":7.84,"v":21.0},{"s":"Nkt (=9)","z":7.85,"v":22.0},{"s":"Nkt (=9)","z":7.88,"v":37.0},{"s":"Nkt (=9)","z":7.92,"v":35.5},{"s":"Nkt (=9)","z":7.95,"v":36.7},{"s":"Nkt (=9)","z":8.02,"v":38.5},{"s":"Nkt (=9)","z":8.08,"v":39.4},{"s":"Nkt (=9)","z":8.14,"v":37.0},{"s":"Nkt (=9)","z":8.20,"v":36.0},{"s":"Nkt (=9)","z":8.24,"v":35.2},{"s":"Nkt (=9)","z":8.30,"v":34.0},{"s":"Nkt (=9)","z":8.36,"v":35.5},{"s":"Nkt (=9)","z":8.41,"v":33.1},{"s":"Nkt (=9)","z":8.47,"v":35.5},{"s":"Nkt (=9)","z":8.52,"v":34.0},{"s":"Nkt (=9)","z":8.57,"v":36.0},{"s":"Nkt (=9)","z":8.61,"v":37.4},{"s":"Nkt (=9)","z":8.67,"v":35.0},{"s":"Nkt (=9)","z":8.74,"v":33.8},{"s":"Nkt (=9)","z":8.80,"v":36.5},{"s":"Nkt (=9)","z":8.86,"v":38.5},{"s":"Nkt (=9)","z":8.90,"v":39.9},{"s":"Nkt (=9)","z":8.96,"v":38.0},{"s":"Nkt (=9)","z":9.02,"v":36.7},{"s":"Nkt (=9)","z":9.08,"v":38.0},{"s":"Nkt (=9)","z":9.15,"v":38.8},{"s":"Nkt (=9)","z":9.22,"v":37.5},{"s":"Nkt (=9)","z":9.31,"v":37.2},{"s":"Nkt (=9)","z":9.38,"v":39.0},{"s":"Nkt (=9)","z":9.43,"v":38.0},{"s":"Nkt (=9)","z":9.48,"v":40.4},{"s":"Nkt (=9)","z":9.54,"v":39.0},{"s":"Nkt (=9)","z":9.60,"v":40.5},{"s":"Nkt (=9)","z":9.64,"v":39.4},{"s":"Nkt (=9)","z":9.70,"v":41.0},{"s":"Nkt (=9)","z":9.76,"v":41.5},{"s":"Nkt (=9)","z":9.79,"v":57.3},{"s":"Nkt (=9)","z":9.81,"v":40.0},{"s":"Nkt (=9)","z":9.85,"v":38.0},{"s":"Nkt (=9)","z":9.87,"v":20.4},{"s":"Nkt (=9)","z":9.88,"v":21.0},{"s":"Nkt (=9)","z":9.91,"v":42.0},{"s":"Nkt (=9)","z":9.96,"v":46.0},{"s":"Nkt (=9)","z":10.01,"v":50.9},{"s":"Nkt (=9)","z":10.05,"v":44.0},{"s":"Nkt (=9)","z":10.09,"v":40.4},{"s":"Nkt (=9)","z":10.15,"v":42.0},{"s":"Nkt (=9)","z":10.22,"v":42.6},{"s":"Nkt (=9)","z":10.27,"v":40.5},{"s":"Nkt (=9)","z":10.30,"v":38.8},{"s":"Nkt (=9)","z":10.36,"v":40.0},{"s":"Nkt (=9)","z":10.42,"v":41.5},{"s":"Nkt (=9)","z":10.47,"v":40.9},{"s":"Nkt (=9)","z":10.53,"v":39.5},{"s":"Nkt (=9)","z":10.59,"v":38.8},{"s":"Nkt (=9)","z":10.64,"v":38.5},{"s":"Nkt (=9)","z":10.70,"v":37.8},{"s":"Nkt (=9)","z":10.76,"v":39.0},{"s":"Nkt (=9)","z":10.83,"v":40.4},{"s":"Nkt (=9)","z":10.90,"v":39.5},{"s":"Nkt (=9)","z":10.97,"v":38.5},{"s":"Nkt (=9)","z":11.03,"v":38.8},{"s":"Nkt (=9)","z":11.10,"v":39.5},{"s":"Nkt (=9)","z":11.16,"v":39.9},{"s":"Nkt (=9)","z":11.22,"v":38.5},{"s":"Nkt (=9)","z":11.28,"v":37.8},{"s":"Nkt (=9)","z":11.32,"v":37.2},{"s":"Nkt (=9)","z":11.40,"v":36.5},{"s":"Nkt (=9)","z":11.47,"v":35.5},{"s":"Nkt (=9)","z":11.52,"v":36.0},{"s":"Nkt (=9)","z":11.57,"v":35.7},{"s":"Nkt (=9)","z":11.63,"v":37.0},{"s":"Nkt (=9)","z":11.68,"v":38.5},{"s":"Nkt (=9)","z":11.73,"v":39.9},{"s":"Nkt (=9)","z":11.80,"v":39.0},{"s":"Nkt (=9)","z":11.85,"v":38.5},{"s":"Nkt (=9)","z":11.87,"v":20.4},{"s":"Nkt (=9)","z":11.88,"v":21.5},{"s":"Nkt (=9)","z":11.92,"v":37.0},{"s":"Nkt (=9)","z":11.98,"v":36.2},{"s":"Nkt (=9)","z":12.05,"v":37.5},{"s":"Nkt (=9)","z":12.10,"v":38.0},{"s":"Nkt (=9)","z":12.14,"v":38.8},{"s":"Nkt (=9)","z":12.20,"v":40.5},{"s":"Nkt (=9)","z":12.27,"v":43.1},{"s":"Nkt (=9)","z":12.33,"v":46.0},{"s":"Nkt (=9)","z":12.37,"v":52.0},{"s":"Nkt (=9)","z":12.40,"v":59.4},{"s":"Nkt (=9)","z":12.43,"v":49.0},{"s":"Nkt (=9)","z":12.47,"v":45.0},{"s":"Nkt (=9)","z":12.51,"v":44.1},{"s":"Nkt (=9)","z":12.56,"v":46.0},{"s":"Nkt (=9)","z":12.60,"v":47.5},{"s":"Nkt (=9)","z":12.64,"v":49.4},{"s":"Nkt (=9)","z":12.70,"v":52.0},{"s":"Nkt (=9)","z":12.75,"v":57.8},{"s":"Nkt (=9)","z":12.80,"v":50.0},{"s":"Nkt (=9)","z":12.86,"v":46.2},{"s":"Nkt (=9)","z":12.92,"v":48.0},{"s":"Nkt (=9)","z":12.96,"v":47.0},{"s":"Nkt (=9)","z":13.01,"v":49.4},{"s":"Nkt (=9)","z":13.07,"v":47.0},{"s":"Nkt (=9)","z":13.13,"v":45.2},{"s":"Nkt (=9)","z":13.19,"v":47.5},{"s":"Nkt (=9)","z":13.25,"v":49.5},{"s":"Nkt (=9)","z":13.30,"v":48.0},{"s":"Nkt (=9)","z":13.34,"v":51.5},{"s":"Nkt (=9)","z":13.39,"v":49.0},{"s":"Nkt (=9)","z":13.44,"v":48.5},{"s":"Nkt (=9)","z":13.50,"v":47.3},{"s":"Nkt (=9)","z":13.56,"v":48.5},{"s":"Nkt (=9)","z":13.62,"v":48.0},{"s":"Nkt (=9)","z":13.69,"v":49.9},{"s":"Nkt (=9)","z":13.74,"v":52.0},{"s":"Nkt (=9)","z":13.78,"v":54.0},{"s":"Nkt (=9)","z":13.81,"v":56.7},{"s":"Nkt (=9)","z":13.83,"v":50.0},{"s":"Nkt (=9)","z":13.85,"v":29.9},{"s":"Nkt (=9)","z":13.86,"v":31.0},{"s":"Nkt (=9)","z":13.89,"v":47.0},{"s":"Nkt (=9)","z":13.95,"v":47.3},{"s":"Nkt (=9)","z":14.01,"v":48.5},{"s":"Nkt (=9)","z":14.07,"v":47.5},{"s":"Nkt (=9)","z":14.12,"v":48.8},{"s":"Nkt (=9)","z":14.18,"v":47.5},{"s":"Nkt (=9)","z":14.24,"v":47.0},{"s":"Nkt (=9)","z":14.28,"v":46.2},{"s":"Nkt (=9)","z":14.34,"v":47.5},{"s":"Nkt (=9)","z":14.41,"v":48.3},{"s":"Nkt (=9)","z":14.47,"v":49.5},{"s":"Nkt (=9)","z":14.52,"v":50.0},{"s":"Nkt (=9)","z":14.57,"v":50.9},{"s":"Nkt (=9)","z":14.62,"v":50.0},{"s":"Nkt (=9)","z":14.67,"v":49.5},{"s":"Nkt (=9)","z":14.73,"v":49.4},{"s":"Nkt (=9)","z":14.80,"v":51.0},{"s":"Nkt (=9)","z":14.87,"v":52.0},{"s":"Nkt (=9)","z":14.93,"v":51.5},{"s":"Nkt (=9)","z":15.00,"v":52.5},{"s":"Nkt (=9)","z":15.06,"v":53.6},{"s":"Nkt (=9)","z":15.12,"v":53.0},{"s":"Nkt (=9)","z":15.19,"v":52.5},{"s":"Nkt (=9)","z":15.27,"v":52.0},{"s":"Nkt (=9)","z":15.33,"v":53.5},{"s":"Nkt (=9)","z":15.39,"v":54.6},{"s":"Nkt (=9)","z":15.45,"v":54.0},{"s":"Nkt (=9)","z":15.51,"v":53.0},{"s":"Nkt (=9)","z":15.56,"v":53.6},{"s":"Nkt (=9)","z":15.62,"v":55.5},{"s":"Nkt (=9)","z":15.68,"v":57.3},{"s":"Nkt (=9)","z":15.72,"v":54.0},{"s":"Nkt (=9)","z":15.76,"v":51.5},{"s":"Nkt (=9)","z":15.80,"v":52.0},{"s":"Nkt (=9)","z":15.83,"v":27.3},{"s":"Nkt (=9)","z":15.85,"v":28.0},{"s":"Nkt (=9)","z":15.88,"v":50.0},{"s":"Nkt (=9)","z":15.94,"v":52.5},{"s":"Nkt (=9)","z":16.01,"v":54.6},{"s":"Nkt (=9)","z":16.07,"v":56.0},{"s":"Nkt (=9)","z":16.13,"v":57.8},{"s":"Nkt (=9)","z":16.19,"v":56.5},{"s":"Nkt (=9)","z":16.26,"v":55.2},{"s":"Nkt (=9)","z":16.33,"v":56.5},{"s":"Nkt (=9)","z":16.40,"v":57.5},{"s":"Nkt (=9)","z":16.47,"v":58.5},{"s":"Nkt (=9)","z":16.54,"v":59.4},{"s":"Nkt (=9)","z":16.60,"v":60.0},{"s":"Nkt (=9)","z":16.67,"v":60.5},{"s":"Nkt (=9)","z":16.73,"v":61.0},{"s":"Nkt (=9)","z":16.79,"v":61.5},{"s":"Nkt (=9)","z":16.86,"v":60.5},{"s":"Nkt (=9)","z":16.95,"v":59.9},{"s":"Nkt (=9)","z":17.03,"v":61.0},{"s":"Nkt (=9)","z":17.10,"v":62.0},{"s":"Nkt (=9)","z":17.16,"v":63.0},{"s":"Nkt (=9)","z":17.23,"v":62.5},{"s":"Nkt (=9)","z":17.30,"v":63.5},{"s":"Nkt (=9)","z":17.37,"v":64.1},{"s":"Nkt (=9)","z":17.43,"v":65.5},{"s":"Nkt (=9)","z":17.50,"v":67.0},{"s":"Nkt (=9)","z":17.57,"v":69.4},{"s":"Nkt (=9)","z":17.63,"v":68.0},{"s":"Nkt (=9)","z":17.70,"v":66.5},{"s":"Nkt (=9)","z":17.76,"v":65.2},{"s":"Nkt (=9)","z":17.80,"v":68.0},{"s":"Nkt (=9)","z":17.83,"v":73.1},

{"s":"Ndu (=9)","z":3.00,"v":9.0},{"s":"Ndu (=9)","z":3.02,"v":18.0},{"s":"Ndu (=9)","z":3.05,"v":24.6},{"s":"Ndu (=9)","z":3.10,"v":27.5},{"s":"Ndu (=9)","z":3.15,"v":29.0},{"s":"Ndu (=9)","z":3.20,"v":30.0},{"s":"Ndu (=9)","z":3.25,"v":31.0},{"s":"Ndu (=9)","z":3.29,"v":31.6},{"s":"Ndu (=9)","z":3.33,"v":30.0},{"s":"Ndu (=9)","z":3.38,"v":27.5},{"s":"Ndu (=9)","z":3.43,"v":27.0},{"s":"Ndu (=9)","z":3.48,"v":28.5},{"s":"Ndu (=9)","z":3.52,"v":29.0},{"s":"Ndu (=9)","z":3.55,"v":29.5},{"s":"Ndu (=9)","z":3.59,"v":29.0},{"s":"Ndu (=9)","z":3.62,"v":30.7},{"s":"Ndu (=9)","z":3.66,"v":30.0},{"s":"Ndu (=9)","z":3.70,"v":31.5},{"s":"Ndu (=9)","z":3.74,"v":32.6},{"s":"Ndu (=9)","z":3.78,"v":31.5},{"s":"Ndu (=9)","z":3.82,"v":31.9},{"s":"Ndu (=9)","z":3.86,"v":30.0},{"s":"Ndu (=9)","z":3.90,"v":26.0},{"s":"Ndu (=9)","z":3.93,"v":16.6},{"s":"Ndu (=9)","z":3.96,"v":21.7},{"s":"Ndu (=9)","z":4.00,"v":24.0},{"s":"Ndu (=9)","z":4.05,"v":26.1},{"s":"Ndu (=9)","z":4.10,"v":28.0},{"s":"Ndu (=9)","z":4.15,"v":30.0},{"s":"Ndu (=9)","z":4.20,"v":31.5},{"s":"Ndu (=9)","z":4.25,"v":33.0},{"s":"Ndu (=9)","z":4.31,"v":34.3},{"s":"Ndu (=9)","z":4.37,"v":36.0},{"s":"Ndu (=9)","z":4.42,"v":37.2},{"s":"Ndu (=9)","z":4.47,"v":35.0},{"s":"Ndu (=9)","z":4.52,"v":33.8},{"s":"Ndu (=9)","z":4.58,"v":33.5},{"s":"Ndu (=9)","z":4.66,"v":32.9},{"s":"Ndu (=9)","z":4.74,"v":33.0},{"s":"Ndu (=9)","z":4.82,"v":32.8},{"s":"Ndu (=9)","z":4.90,"v":32.3},{"s":"Ndu (=9)","z":4.96,"v":32.0},{"s":"Ndu (=9)","z":5.03,"v":32.1},{"s":"Ndu (=9)","z":5.09,"v":33.6},{"s":"Ndu (=9)","z":5.12,"v":32.9},{"s":"Ndu (=9)","z":5.16,"v":34.0},{"s":"Ndu (=9)","z":5.20,"v":34.3},{"s":"Ndu (=9)","z":5.25,"v":34.0},{"s":"Ndu (=9)","z":5.30,"v":33.5},{"s":"Ndu (=9)","z":5.35,"v":34.5},{"s":"Ndu (=9)","z":5.40,"v":33.6},{"s":"Ndu (=9)","z":5.46,"v":34.5},{"s":"Ndu (=9)","z":5.52,"v":34.2},{"s":"Ndu (=9)","z":5.57,"v":34.8},{"s":"Ndu (=9)","z":5.62,"v":34.0},{"s":"Ndu (=9)","z":5.67,"v":33.6},{"s":"Ndu (=9)","z":5.73,"v":33.6},{"s":"Ndu (=9)","z":5.77,"v":34.3},{"s":"Ndu (=9)","z":5.81,"v":34.1},{"s":"Ndu (=9)","z":5.84,"v":33.0},{"s":"Ndu (=9)","z":5.86,"v":25.9},{"s":"Ndu (=9)","z":5.88,"v":27.0},{"s":"Ndu (=9)","z":5.92,"v":32.5},{"s":"Ndu (=9)","z":5.98,"v":33.1},{"s":"Ndu (=9)","z":6.04,"v":34.0},{"s":"Ndu (=9)","z":6.10,"v":34.6},{"s":"Ndu (=9)","z":6.17,"v":34.0},{"s":"Ndu (=9)","z":6.22,"v":33.0},{"s":"Ndu (=9)","z":6.26,"v":33.6},{"s":"Ndu (=9)","z":6.32,"v":34.5},{"s":"Ndu (=9)","z":6.38,"v":35.0},{"s":"Ndu (=9)","z":6.44,"v":35.5},{"s":"Ndu (=9)","z":6.49,"v":36.2},{"s":"Ndu (=9)","z":6.55,"v":35.5},{"s":"Ndu (=9)","z":6.63,"v":34.6},{"s":"Ndu (=9)","z":6.70,"v":35.5},{"s":"Ndu (=9)","z":6.76,"v":35.7},{"s":"Ndu (=9)","z":6.82,"v":36.0},{"s":"Ndu (=9)","z":6.88,"v":36.2},{"s":"Ndu (=9)","z":6.94,"v":36.5},{"s":"Ndu (=9)","z":6.99,"v":36.7},{"s":"Ndu (=9)","z":7.06,"v":37.5},{"s":"Ndu (=9)","z":7.13,"v":37.8},{"s":"Ndu (=9)","z":7.20,"v":38.0},{"s":"Ndu (=9)","z":7.26,"v":38.3},{"s":"Ndu (=9)","z":7.33,"v":37.8},{"s":"Ndu (=9)","z":7.40,"v":37.5},{"s":"Ndu (=9)","z":7.45,"v":37.0},{"s":"Ndu (=9)","z":7.50,"v":37.2},{"s":"Ndu (=9)","z":7.56,"v":37.5},{"s":"Ndu (=9)","z":7.63,"v":37.8},{"s":"Ndu (=9)","z":7.68,"v":38.5},{"s":"Ndu (=9)","z":7.73,"v":39.5},{"s":"Ndu (=9)","z":7.79,"v":40.4},{"s":"Ndu (=9)","z":7.82,"v":40.0},{"s":"Ndu (=9)","z":7.84,"v":29.4},{"s":"Ndu (=9)","z":7.85,"v":31.0},{"s":"Ndu (=9)","z":7.88,"v":39.5},{"s":"Ndu (=9)","z":7.91,"v":40.4},{"s":"Ndu (=9)","z":7.97,"v":40.0},{"s":"Ndu (=9)","z":8.03,"v":39.5},{"s":"Ndu (=9)","z":8.08,"v":39.0},{"s":"Ndu (=9)","z":8.12,"v":39.4},{"s":"Ndu (=9)","z":8.18,"v":38.5},{"s":"Ndu (=9)","z":8.24,"v":38.8},{"s":"Ndu (=9)","z":8.30,"v":39.5},{"s":"Ndu (=9)","z":8.36,"v":38.8},{"s":"Ndu (=9)","z":8.41,"v":39.0},{"s":"Ndu (=9)","z":8.45,"v":39.4},{"s":"Ndu (=9)","z":8.50,"v":38.5},{"s":"Ndu (=9)","z":8.55,"v":38.2},{"s":"Ndu (=9)","z":8.60,"v":38.0},{"s":"Ndu (=9)","z":8.65,"v":37.8},{"s":"Ndu (=9)","z":8.70,"v":38.3},{"s":"Ndu (=9)","z":8.75,"v":38.8},{"s":"Ndu (=9)","z":8.80,"v":38.0},{"s":"Ndu (=9)","z":8.85,"v":37.5},{"s":"Ndu (=9)","z":8.90,"v":37.2},{"s":"Ndu (=9)","z":8.96,"v":38.5},{"s":"Ndu (=9)","z":9.02,"v":39.9},{"s":"Ndu (=9)","z":9.08,"v":40.0},{"s":"Ndu (=9)","z":9.15,"v":40.5},{"s":"Ndu (=9)","z":9.23,"v":40.4},{"s":"Ndu (=9)","z":9.30,"v":41.5},{"s":"Ndu (=9)","z":9.36,"v":42.5},{"s":"Ndu (=9)","z":9.40,"v":43.1},{"s":"Ndu (=9)","z":9.46,"v":42.5},{"s":"Ndu (=9)","z":9.52,"v":43.0},{"s":"Ndu (=9)","z":9.56,"v":42.0},{"s":"Ndu (=9)","z":9.62,"v":41.5},{"s":"Ndu (=9)","z":9.67,"v":42.0},{"s":"Ndu (=9)","z":9.72,"v":41.0},{"s":"Ndu (=9)","z":9.75,"v":38.0},{"s":"Ndu (=9)","z":9.77,"v":30.4},{"s":"Ndu (=9)","z":9.79,"v":33.0},{"s":"Ndu (=9)","z":9.84,"v":35.5},{"s":"Ndu (=9)","z":9.89,"v":36.7},{"s":"Ndu (=9)","z":9.93,"v":38.5},{"s":"Ndu (=9)","z":9.97,"v":40.4},{"s":"Ndu (=9)","z":10.03,"v":41.5},{"s":"Ndu (=9)","z":10.09,"v":43.1},{"s":"Ndu (=9)","z":10.15,"v":44.0},{"s":"Ndu (=9)","z":10.22,"v":45.2},{"s":"Ndu (=9)","z":10.26,"v":44.0},{"s":"Ndu (=9)","z":10.30,"v":42.6},{"s":"Ndu (=9)","z":10.36,"v":43.5},{"s":"Ndu (=9)","z":10.42,"v":44.0},{"s":"Ndu (=9)","z":10.47,"v":43.6},{"s":"Ndu (=9)","z":10.53,"v":44.5},{"s":"Ndu (=9)","z":10.59,"v":44.1},{"s":"Ndu (=9)","z":10.64,"v":43.0},{"s":"Ndu (=9)","z":10.70,"v":42.6},{"s":"Ndu (=9)","z":10.76,"v":43.5},{"s":"Ndu (=9)","z":10.83,"v":44.1},{"s":"Ndu (=9)","z":10.90,"v":43.5},{"s":"Ndu (=9)","z":10.97,"v":43.0},{"s":"Ndu (=9)","z":11.04,"v":43.5},{"s":"Ndu (=9)","z":11.07,"v":43.1},{"s":"Ndu (=9)","z":11.12,"v":44.5},{"s":"Ndu (=9)","z":11.18,"v":43.5},{"s":"Ndu (=9)","z":11.25,"v":42.5},{"s":"Ndu (=9)","z":11.32,"v":42.6},{"s":"Ndu (=9)","z":11.38,"v":43.0},{"s":"Ndu (=9)","z":11.44,"v":43.6},{"s":"Ndu (=9)","z":11.50,"v":42.5},{"s":"Ndu (=9)","z":11.56,"v":42.0},{"s":"Ndu (=9)","z":11.61,"v":41.5},{"s":"Ndu (=9)","z":11.65,"v":41.5},{"s":"Ndu (=9)","z":11.69,"v":43.0},{"s":"Ndu (=9)","z":11.73,"v":44.1},{"s":"Ndu (=9)","z":11.77,"v":43.0},{"s":"Ndu (=9)","z":11.81,"v":42.6},{"s":"Ndu (=9)","z":11.85,"v":42.0},{"s":"Ndu (=9)","z":11.87,"v":38.5},{"s":"Ndu (=9)","z":11.89,"v":41.0},{"s":"Ndu (=9)","z":11.94,"v":43.1},{"s":"Ndu (=9)","z":12.00,"v":42.5},{"s":"Ndu (=9)","z":12.06,"v":42.0},{"s":"Ndu (=9)","z":12.10,"v":42.0},{"s":"Ndu (=9)","z":12.17,"v":42.5},{"s":"Ndu (=9)","z":12.22,"v":43.0},{"s":"Ndu (=9)","z":12.27,"v":43.6},{"s":"Ndu (=9)","z":12.33,"v":45.0},{"s":"Ndu (=9)","z":12.37,"v":47.3},{"s":"Ndu (=9)","z":12.40,"v":49.0},{"s":"Ndu (=9)","z":12.43,"v":50.4},{"s":"Ndu (=9)","z":12.49,"v":50.5},{"s":"Ndu (=9)","z":12.56,"v":49.9},{"s":"Ndu (=9)","z":12.62,"v":50.5},{"s":"Ndu (=9)","z":12.68,"v":51.5},{"s":"Ndu (=9)","z":12.74,"v":52.5},{"s":"Ndu (=9)","z":12.80,"v":53.0},{"s":"Ndu (=9)","z":12.88,"v":53.6},{"s":"Ndu (=9)","z":12.95,"v":52.0},{"s":"Ndu (=9)","z":13.01,"v":50.9},{"s":"Ndu (=9)","z":13.07,"v":51.5},{"s":"Ndu (=9)","z":13.13,"v":52.5},{"s":"Ndu (=9)","z":13.20,"v":53.0},{"s":"Ndu (=9)","z":13.27,"v":53.5},{"s":"Ndu (=9)","z":13.34,"v":53.6},{"s":"Ndu (=9)","z":13.40,"v":52.5},{"s":"Ndu (=9)","z":13.47,"v":51.5},{"s":"Ndu (=9)","z":13.54,"v":50.9},{"s":"Ndu (=9)","z":13.60,"v":51.5},{"s":"Ndu (=9)","z":13.67,"v":52.5},{"s":"Ndu (=9)","z":13.75,"v":53.6},{"s":"Ndu (=9)","z":13.81,"v":53.0},{"s":"Ndu (=9)","z":13.84,"v":50.0},{"s":"Ndu (=9)","z":13.86,"v":44.0},{"s":"Ndu (=9)","z":13.88,"v":48.0},{"s":"Ndu (=9)","z":13.91,"v":52.0},{"s":"Ndu (=9)","z":13.97,"v":53.0},{"s":"Ndu (=9)","z":14.04,"v":53.6},{"s":"Ndu (=9)","z":14.10,"v":53.0},{"s":"Ndu (=9)","z":14.17,"v":53.5},{"s":"Ndu (=9)","z":14.24,"v":54.0},{"s":"Ndu (=9)","z":14.32,"v":53.6},{"s":"Ndu (=9)","z":14.41,"v":54.6},{"s":"Ndu (=9)","z":14.49,"v":55.2},{"s":"Ndu (=9)","z":14.57,"v":55.5},{"s":"Ndu (=9)","z":14.65,"v":56.0},{"s":"Ndu (=9)","z":14.73,"v":56.7},{"s":"Ndu (=9)","z":14.80,"v":57.0},{"s":"Ndu (=9)","z":14.88,"v":57.3},{"s":"Ndu (=9)","z":14.96,"v":57.5},{"s":"Ndu (=9)","z":15.06,"v":57.8},{"s":"Ndu (=9)","z":15.14,"v":58.0},{"s":"Ndu (=9)","z":15.22,"v":58.3},{"s":"Ndu (=9)","z":15.29,"v":58.5},{"s":"Ndu (=9)","z":15.35,"v":58.8},{"s":"Ndu (=9)","z":15.43,"v":59.5},{"s":"Ndu (=9)","z":15.51,"v":60.4},{"s":"Ndu (=9)","z":15.58,"v":60.0},{"s":"Ndu (=9)","z":15.63,"v":60.3},{"s":"Ndu (=9)","z":15.68,"v":59.9},{"s":"Ndu (=9)","z":15.75,"v":60.0},{"s":"Ndu (=9)","z":15.82,"v":59.9},{"s":"Ndu (=9)","z":15.84,"v":47.8},{"s":"Ndu (=9)","z":15.86,"v":55.0},{"s":"Ndu (=9)","z":15.90,"v":60.0},{"s":"Ndu (=9)","z":15.97,"v":59.9},{"s":"Ndu (=9)","z":16.03,"v":60.0},{"s":"Ndu (=9)","z":16.09,"v":59.9},{"s":"Ndu (=9)","z":16.13,"v":61.0},{"s":"Ndu (=9)","z":16.17,"v":62.5},{"s":"Ndu (=9)","z":16.23,"v":63.5},{"s":"Ndu (=9)","z":16.30,"v":64.1},{"s":"Ndu (=9)","z":16.36,"v":63.5},{"s":"Ndu (=9)","z":16.42,"v":63.0},{"s":"Ndu (=9)","z":16.48,"v":62.5},{"s":"Ndu (=9)","z":16.54,"v":62.0},{"s":"Ndu (=9)","z":16.58,"v":63.0},{"s":"Ndu (=9)","z":16.63,"v":64.6},{"s":"Ndu (=9)","z":16.70,"v":65.5},{"s":"Ndu (=9)","z":16.79,"v":66.7},{"s":"Ndu (=9)","z":16.87,"v":66.0},{"s":"Ndu (=9)","z":16.95,"v":65.5},{"s":"Ndu (=9)","z":17.04,"v":65.7},{"s":"Ndu (=9)","z":17.12,"v":66.5},{"s":"Ndu (=9)","z":17.20,"v":67.3},{"s":"Ndu (=9)","z":17.28,"v":67.5},{"s":"Ndu (=9)","z":17.35,"v":68.0},{"s":"Ndu (=9)","z":17.41,"v":68.8},{"s":"Ndu (=9)","z":17.47,"v":70.0},{"s":"Ndu (=9)","z":17.53,"v":71.5},{"s":"Ndu (=9)","z":17.59,"v":71.0},{"s":"Ndu (=9)","z":17.65,"v":70.4},{"s":"Ndu (=9)","z":17.70,"v":71.5},{"s":"Ndu (=9)","z":17.74,"v":72.0},{"s":"Ndu (=9)","z":17.78,"v":70.0},{"s":"Ndu (=9)","z":17.82,"v":68.8},

{"s":"Design","z":3.0,"v":20.0},{"s":"Design","z":18.0,"v":50.0},
{"s":"p'_c","z":3.0,"v":24.5},{"s":"p'_c","z":18.0,"v":47.8},

{"s":"Enaks","z":4.20,"v":22.2},{"s":"Enaks","z":4.40,"v":11.9},{"s":"Enaks","z":4.60,"v":11.1},{"s":"Enaks","z":6.30,"v":38.2},{"s":"Enaks","z":8.20,"v":35.7},
{"s":"Konus","z":4.51,"v":5.1},{"s":"Konus","z":4.31,"v":13.4},{"s":"Konus","z":6.19,"v":36.7},{"s":"Konus","z":6.40,"v":28.1},{"s":"Konus","z":8.30,"v":16.9},
{"s":"Treaks","z":3.51,"v":26.1},{"s":"Treaks","z":4.52,"v":26.6},{"s":"Treaks","z":5.21,"v":26.1}
]},
"encoding": {
  "x": {"field": "v", "type": "quantitative", "scale": {"domain": [0, 100]},
    "axis": {"orient": "top", "values": [0,10,20,30,40,50,60,70,80,90,100], "grid": true, "gridColor": "#8a8a8a", "gridWidth": 2, "gridOpacity": 1, "domain": false, "ticks": false,
      "labelFont": "DejaVu Sans", "labelFontSize": 23, "labelColor": "#000000", "labelBaseline": "middle", "labelPadding": 46, "labelFlush": false,
      "title": "s_u \u00a0(kPa)", "titleFont": "DejaVu Sans", "titleFontSize": 23, "titleFontWeight": "bold", "titleColor": "#000000", "titleBaseline": "middle", "titleY": -88, "titleX": 345}},
  "y": {"field": "z", "type": "quantitative", "scale": {"domain": [0, 19], "reverse": true},
    "axis": {"values": [0,1,2,3,4,5,6,7,8,9,10,11,12,13,14,15,16,17,18,19], "grid": true, "gridColor": "#8a8a8a", "gridWidth": 2, "gridOpacity": 1, "domain": false, "ticks": false,
      "labelExpr": "replace(format(datum.value, '.1f'), '.', ',')", "labelFont": "DejaVu Sans", "labelFontSize": 23, "labelColor": "#000000", "labelPadding": 32, "labelBaseline": "middle", "labelFlush": false, "labelOffset": -2,
      "title": "z (m)", "titleFont": "DejaVu Sans", "titleFontSize": 23, "titleFontWeight": "bold", "titleColor": "#000000", "titleX": -118, "titleY": 770, "titleAngle": -90, "titleAlign": "center", "titleBaseline": "middle"}},
  "color": {"field": "s", "type": "nominal",
    "scale": {"domain": ["N_kt","N_du","Enaks","Konus","Treaks","Design","p'_c","Nkt (=9)","Ndu (=9)"],
              "range": ["#DF8731","#283140","#000000","#000000","#000000","#FF3B30","#4E8E31","#E3E3E3","#9DCB80"]},
    "legend": {"title": null, "orient": "none", "legendX": 758, "legendY": 468, "columns": 1, "padding": 0, "symbolSize": 4624, "symbolStrokeWidth": 2.5, "clipHeight": 40, "rowPadding": 16.6, "symbolOffset": 22.5,
      "labelFont": "DejaVu Sans", "labelFontSize": 23, "labelColor": "#000000", "labelOffset": 30, "labelBaseline": "middle",
      "encode": {"symbols": {"update": {
        "size": {"signal": "indexof(['Enaks','Konus','Treaks'], datum.value) >= 0 ? 220 : (datum.value === 'Design' ? 3364 : 4624)"},
        "strokeWidth": {"signal": "datum.value === \"p'_c\" ? 5.5 : (datum.value === 'Design' ? 5 : (datum.value === 'Nkt (=9)' ? 4 : (indexof(['Enaks','Konus','Treaks'], datum.value) >= 0 ? 1 : 3)))"},
        "strokeCap": {"signal": "datum.value === 'Design' ? 'round' : 'butt'"},
        "fill": {"scale": "color", "field": "value"},
        "stroke": {"scale": "color", "field": "value"},
        "opacity": {"value": 1}
      }}}}
  }
},
"layer": [
  {"transform": [{"filter": {"field": "s", "equal": "N_kt"}}], "mark": {"type": "line", "strokeWidth": 3, "clip": true},
   "encoding": {"order": {"field": "z", "type": "quantitative"},
     "strokeDash": {"field": "s", "type": "nominal", "scale": {"domain": ["N_kt","N_du","Enaks","Konus","Treaks","Design","p'_c","Nkt (=9)","Ndu (=9)"], "range": [[1,0],[1,0],[1,0],[1,0],[1,0],[15,18],[1,0],[1,0],[1,0]]}, "legend": {"title": null, "orient": "none", "legendX": 758, "legendY": 468, "columns": 1}}}},
  {"transform": [{"filter": {"field": "s", "equal": "N_du"}}], "mark": {"type": "line", "strokeWidth": 2.8, "clip": true},
   "encoding": {"order": {"field": "z", "type": "quantitative"},
     "strokeDash": {"field": "s", "type": "nominal", "scale": {"domain": ["N_kt","N_du","Enaks","Konus","Treaks","Design","p'_c","Nkt (=9)","Ndu (=9)"], "range": [[1,0],[1,0],[1,0],[1,0],[1,0],[15,18],[1,0],[1,0],[1,0]]}, "legend": {"title": null, "orient": "none", "legendX": 758, "legendY": 468, "columns": 1}}}},
  {"transform": [{"filter": {"field": "s", "equal": "Nkt (=9)"}}], "mark": {"type": "line", "strokeWidth": 3.8, "clip": true},
   "encoding": {"order": {"field": "z", "type": "quantitative"},
     "strokeDash": {"field": "s", "type": "nominal", "scale": {"domain": ["N_kt","N_du","Enaks","Konus","Treaks","Design","p'_c","Nkt (=9)","Ndu (=9)"], "range": [[1,0],[1,0],[1,0],[1,0],[1,0],[15,18],[1,0],[1,0],[1,0]]}, "legend": {"title": null, "orient": "none", "legendX": 758, "legendY": 468, "columns": 1}}}},
  {"transform": [{"filter": {"field": "s", "equal": "Ndu (=9)"}}], "mark": {"type": "line", "strokeWidth": 2.6, "clip": true},
   "encoding": {"order": {"field": "z", "type": "quantitative"},
     "strokeDash": {"field": "s", "type": "nominal", "scale": {"domain": ["N_kt","N_du","Enaks","Konus","Treaks","Design","p'_c","Nkt (=9)","Ndu (=9)"], "range": [[1,0],[1,0],[1,0],[1,0],[1,0],[15,18],[1,0],[1,0],[1,0]]}, "legend": {"title": null, "orient": "none", "legendX": 758, "legendY": 468, "columns": 1}}}},
  {"transform": [{"filter": {"field": "s", "equal": "Design"}}], "mark": {"type": "line", "strokeWidth": 4.5, "strokeCap": "round"},
   "encoding": {"order": {"field": "z", "type": "quantitative"},
     "strokeDash": {"field": "s", "type": "nominal", "scale": {"domain": ["N_kt","N_du","Enaks","Konus","Treaks","Design","p'_c","Nkt (=9)","Ndu (=9)"], "range": [[1,0],[1,0],[1,0],[1,0],[1,0],[15,18],[1,0],[1,0],[1,0]]}, "legend": {"title": null, "orient": "none", "legendX": 758, "legendY": 468, "columns": 1}}}},
  {"transform": [{"filter": {"field": "s", "equal": "p'_c"}}], "mark": {"type": "line", "strokeWidth": 5, "strokeCap": "round"},
   "encoding": {"order": {"field": "z", "type": "quantitative"},
     "strokeDash": {"field": "s", "type": "nominal", "scale": {"domain": ["N_kt","N_du","Enaks","Konus","Treaks","Design","p'_c","Nkt (=9)","Ndu (=9)"], "range": [[1,0],[1,0],[1,0],[1,0],[1,0],[15,18],[1,0],[1,0],[1,0]]}, "legend": {"title": null, "orient": "none", "legendX": 758, "legendY": 468, "columns": 1}}}},
  {"transform": [{"filter": {"field": "s", "equal": "Enaks"}}], "mark": {"type": "point", "filled": true, "size": 210, "opacity": 1, "strokeWidth": 1},
   "encoding": {
     "shape": {"field": "s", "type": "nominal", "scale": {"domain": ["N_kt","N_du","Enaks","Konus","Treaks","Design","p'_c","Nkt (=9)","Ndu (=9)"], "range": ["stroke","stroke","square","diamond","triangle-up","stroke","stroke","stroke","stroke"]}, "legend": {"title": null, "orient": "none", "legendX": 758, "legendY": 468, "columns": 1}}}},
  {"transform": [{"filter": {"field": "s", "equal": "Konus"}}], "mark": {"type": "point", "filled": true, "size": 240, "opacity": 1, "strokeWidth": 1},
   "encoding": {
     "shape": {"field": "s", "type": "nominal", "scale": {"domain": ["N_kt","N_du","Enaks","Konus","Treaks","Design","p'_c","Nkt (=9)","Ndu (=9)"], "range": ["stroke","stroke","square","diamond","triangle-up","stroke","stroke","stroke","stroke"]}, "legend": {"title": null, "orient": "none", "legendX": 758, "legendY": 468, "columns": 1}}}},
  {"transform": [{"filter": {"field": "s", "equal": "Treaks"}}], "mark": {"type": "point", "filled": true, "size": 260, "opacity": 1, "strokeWidth": 1},
   "encoding": {
     "shape": {"field": "s", "type": "nominal", "scale": {"domain": ["N_kt","N_du","Enaks","Konus","Treaks","Design","p'_c","Nkt (=9)","Ndu (=9)"], "range": ["stroke","stroke","square","diamond","triangle-up","stroke","stroke","stroke","stroke"]}, "legend": {"title": null, "orient": "none", "legendX": 758, "legendY": 468, "columns": 1}}}}
]
}
